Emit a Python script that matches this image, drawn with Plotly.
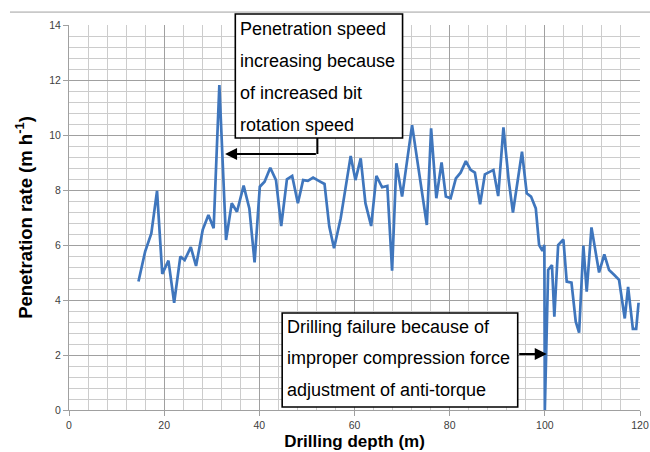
import plotly.graph_objects as go

depth = [14.6, 16.0, 17.3, 18.5, 19.6, 20.9, 22.1, 23.4, 24.3, 25.6, 26.7, 28.1, 29.3, 30.4,
         31.6, 33.0, 34.2, 35.3, 36.7, 37.9, 39.0, 40.1, 41.1, 42.3, 43.5, 44.6, 45.8, 46.9,
         48.1, 49.2, 50.2, 51.3, 52.5, 53.7, 54.7, 55.7, 57.1, 58.1, 59.2, 60.2, 61.3, 62.3,
         63.5, 64.6, 65.8, 66.9, 67.9, 68.8, 70.0, 72.1, 75.2, 76.1, 77.2, 78.3, 79.2, 80.2,
         81.3, 82.3, 83.4, 84.4, 85.3, 86.4, 87.4, 89.2, 90.2, 91.3, 92.4, 93.3, 95.2, 96.2,
         97.1, 98.1, 98.8, 99.5, 99.9, 100.0, 100.7, 101.5, 102.0, 102.8, 103.9, 104.6, 105.6,
         106.5, 107.2, 108.1, 108.8, 109.8, 111.4, 112.5, 113.5, 114.6, 115.6, 116.8, 117.5,
         118.5, 119.2, 119.7]
rate = [4.67, 5.76, 6.42, 7.97, 4.95, 5.43, 3.90, 5.58, 5.45, 5.92, 5.24, 6.55, 7.09, 6.61,
        11.82, 6.18, 7.52, 7.21, 8.16, 7.33, 5.37, 8.12, 8.30, 8.81, 8.36, 6.69, 8.39, 8.51,
        7.52, 8.36, 8.33, 8.45, 8.33, 8.22, 6.67, 5.88, 6.97, 8.06, 9.24, 8.36, 9.15, 7.52,
        6.69, 8.51, 8.10, 8.15, 5.07, 8.97, 7.76, 10.36, 6.73, 10.24, 7.70, 9.00, 7.76, 7.70,
        8.42, 8.63, 9.05, 8.73, 8.63, 7.48, 8.57, 8.73, 7.78, 10.28, 8.36, 7.18, 9.39, 7.88,
        7.76, 7.33, 6.00, 5.79, 6.00, 0.00, 5.09, 5.27, 3.39, 6.00, 6.20, 4.67, 4.63,
        3.21, 2.81, 5.98, 4.30, 6.64, 5.00, 5.66, 5.09, 4.91, 4.73, 3.33, 4.48,
        2.95, 2.95, 3.90]

x_range = [0, 120]
y_range = [0, 14]
x_ticks = [0, 20, 40, 60, 80, 100, 120]
y_ticks = [0, 2, 4, 6, 8, 10, 12, 14]

note1_lines = ["Penetration speed", "increasing because", "of increased bit", "rotation speed"]
note2_lines = ["Drilling failure because of", "improper compression force", "adjustment of anti-torque"]

def px(x):
    return (x - x_range[0]) / (x_range[1] - x_range[0])

def py(y):
    return (y - y_range[0]) / (y_range[1] - y_range[0])

fig = go.Figure()
fig.add_trace(go.Scatter(x=depth, y=rate, mode="lines",
                         line=dict(color="#3f76bd", width=2.7), hoverinfo="skip"))

grid_minor = "#cccccc"
grid_major = "#a0a0a0"
tick_font = dict(family="Liberation Sans", size=10.5, color="#404040")

fig.update_xaxes(range=x_range, tickvals=x_ticks, showgrid=True, gridcolor=grid_major, gridwidth=1,
                 minor=dict(dtick=4, showgrid=True, gridcolor=grid_minor, gridwidth=1, tick0=0),
                 showline=True, linecolor=grid_major, linewidth=1, zeroline=False, automargin=False,
                 ticks="outside", ticklen=5, tickcolor=grid_major, tickfont=tick_font,
                 title=dict(text="<b>Drilling depth (m)</b>",
                            font=dict(family="Liberation Sans", size=17, color="black"), standoff=5))
fig.update_yaxes(range=y_range, tickvals=y_ticks, showgrid=True, gridcolor=grid_major, gridwidth=1,
                 minor=dict(dtick=0.4, showgrid=True, gridcolor=grid_minor, gridwidth=1, tick0=0),
                 showline=True, linecolor=grid_major, linewidth=1, zeroline=False, automargin=False,
                 ticks="outside", ticklen=5, tickcolor=grid_major, tickfont=tick_font,
                 title=dict(text="<b>Penetration rate (m h<sup>-1</sup>)</b>",
                            font=dict(family="Liberation Sans", size=18.5, color="black"), standoff=11))

shapes = []
annotations = []
# top border line of the page
shapes.append(dict(type="line", xref="paper", yref="paper", x0=px(-12.4), x1=px(124), y0=py(14.47), y1=py(14.47),
                   line=dict(color="#a0a0a0", width=1)))

# box 1
shapes.append(dict(type="rect", xref="paper", yref="paper", x0=px(34.95), x1=px(70.1), y0=py(9.89), y1=py(14.4),
                   fillcolor="white", line=dict(color="black", width=1.6), layer="above"))
for i, t in enumerate(note1_lines):
    annotations.append(dict(x=px(35.6), y=py(13.85 - i * 1.16), xref="paper", yref="paper", text=t,
                            showarrow=False, xanchor="left", yanchor="middle",
                            font=dict(family="Liberation Sans", size=18, color="black")))
shapes.append(dict(type="line", xref="paper", yref="paper", x0=px(52.2), x1=px(52.2), y0=py(9.89), y1=py(9.31),
                   line=dict(color="black", width=2), layer="above"))
annotations.append(dict(x=32.8, y=9.31, xref="x", yref="y", ax=52.2, ay=9.31, axref="x", ayref="y",
                        text="", showarrow=True, arrowhead=2, arrowsize=1.2, arrowwidth=2, arrowcolor="black"))

# box 2
shapes.append(dict(type="rect", xref="paper", yref="paper", x0=px(44.8), x1=px(94.3), y0=py(0.11), y1=py(3.53),
                   fillcolor="white", line=dict(color="black", width=1.6), layer="above"))
for i, t in enumerate(note2_lines):
    annotations.append(dict(x=px(45.3), y=py(3.02 - i * 1.14), xref="paper", yref="paper", text=t,
                            showarrow=False, xanchor="left", yanchor="middle",
                            font=dict(family="Liberation Sans", size=18, color="black")))
annotations.append(dict(x=100.4, y=2.04, xref="x", yref="y", ax=94.3, ay=2.04, axref="x", ayref="y",
                        text="", showarrow=True, arrowhead=2, arrowsize=1.2, arrowwidth=2, arrowcolor="black"))

fig.update_layout(width=650, height=452, margin=dict(l=69, r=10, t=25, b=42),
                  plot_bgcolor="white", paper_bgcolor="white", showlegend=False,
                  shapes=shapes, annotations=annotations)

fig.write_html("out.html", config={"displayModeBar": False},
               post_script="document.body.style.margin='0px';document.body.style.overflow='hidden';")
